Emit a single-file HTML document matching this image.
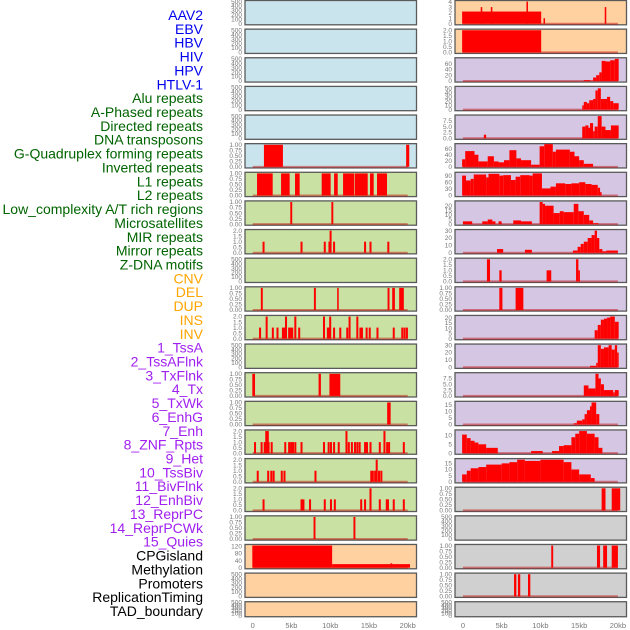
<!DOCTYPE html>
<html><head><meta charset="utf-8">
<style>
html,body{margin:0;padding:0;background:#fff;}
svg{display:block;font-family:"Liberation Sans",sans-serif;}
</style></head>
<body>
<svg id="chart" width="630" height="630" viewBox="0 0 630 630" xmlns="http://www.w3.org/2000/svg">
<g id="labels"></g>
<g id="panels"></g>
<g id="xaxes"></g>
</svg>
<script>
// ---- labels ----
const labelNames = ["AAV2","EBV","HBV","HIV","HPV","HTLV-1","Alu repeats","A-Phased repeats","Directed repeats","DNA transposons","G-Quadruplex forming repeats","Inverted repeats","L1 repeats","L2 repeats","Low_complexity A/T rich regions","Microsatellites","MIR repeats","Mirror repeats","Z-DNA motifs","CNV","DEL","DUP","INS","INV","1_TssA","2_TssAFlnk","3_TxFlnk","4_Tx","5_TxWk","6_EnhG","7_Enh","8_ZNF_Rpts","9_Het","10_TssBiv","11_BivFlnk","12_EnhBiv","13_ReprPC","14_ReprPCWk","15_Quies","CPGisland","Methylation","Promoters","ReplicationTiming","TAD_boundary"];
const labelGroups = [6,13,5,15,5];
const groupColors = ["#0000ee","#006400","#ffa500","#a020f0","#000000"];

// ---- x axis ----
const xTickVals = [0,5,10,15,20];
const xTickLabels = ["0","5kb","10kb","15kb","20kb"];

// ---- tick sets ----
const tEmptyV = [0,100,200,300,400,500]; const tEmptyL = ["0","100","200","300","400","500"];
const t1V = [0,0.25,0.5,0.75,1]; const t1L = ["0.00","0.25","0.50","0.75","1.00"];
const t2V = [0,0.5,1,1.5,2]; const t2L = ["0.0","0.5","1.0","1.5","2.0"];
const t4V = [0,1,2,3,4]; const t4L = ["0","1","2","3","4"];
const t60V = [0,20,40,60]; const t60L = ["0","20","40","60"];
const t50V = [0,10,20,30,40,50]; const t50L = ["0","10","20","30","40","50"];
const t75V = [0,2.5,5,7.5]; const t75L = ["0.0","2.5","5.0","7.5"];
const t90V = [0,30,60,90]; const t90L = ["0","30","60","90"];
const t20V = [0,5,10,15,20]; const t20L = ["0","5","10","15","20"];
const t30V = [0,10,20,30]; const t30L = ["0","10","20","30"];
const t15V = [0,5,10,15]; const t15L = ["0","5","10","15"];
const t10V = [0,5,10]; const t10L = ["0","5","10"];
const t120V = [0,40,80,120]; const t120L = ["0","40","80","120"];

// ---- left column data (interval: [start kb, end kb, value]; spikes: [center kb, value]) ----
const htlvIntervals = [[1.45,3.9,1],[19.8,20.2,1]];
const aluIntervals = [[0.56,2.58,1],[3.66,4.77,1],[5.46,6.06,1],[8.9,10.06,1],[10.5,10.97,1],[11.66,13.08,1],[13.16,14.84,1],[15.14,15.61,1],[16.04,17.33,1]];
const aphasedIntervals = [[4.85,5.1,1],[10.15,10.4,1]];
const directedSpikes = [[1.4,1],[6.3,1],[9.3,1],[9.9,1],[10.05,2],[10.5,1],[14.5,1],[15.2,1],[17.5,1]];
const gquadIntervals = [[1.05,1.3,1],[7.9,8.15,1],[10.9,11.1,1],[17.4,17.65,1],[18.0,18.35,1],[18.9,19.5,1]];
const invertedSpikes = [[0.95,1],[1.8,2],[2.6,1],[3.2,1],[3.9,1],[4.1,1],[4.3,2],[4.7,1],[4.9,1],[5.1,1],[5.5,2],[6.0,1],[9.2,2],[9.7,1],[9.85,1],[10.0,2],[10.5,1],[11.3,1],[12.2,1],[12.5,2],[13.5,2],[13.9,1],[14.1,1],[14.7,1],[15.1,1],[16.1,1],[18.2,1],[19.3,1],[19.6,1],[19.9,1]];
const l2Intervals = [[-0.05,0.3,1],[8.5,8.8,1],[9.9,11.3,1]];
const lowcompIntervals = [[17.35,17.8,1]];
const microsatSpikes = [[0.3,1],[1.15,1],[1.55,1],[1.75,2],[1.95,2],[2.05,1],[2.45,1],[4.2,1],[4.7,1],[4.95,1],[5.2,1],[5.5,1],[6.3,1],[9.2,1],[9.8,1],[10.1,1],[10.5,1],[11.1,1],[12.1,2],[12.4,1],[12.8,1],[13.2,1],[13.5,1],[13.8,1],[14.5,1],[14.75,1],[15.2,1],[16.4,1],[17.0,2],[17.35,1],[17.6,1],[19.5,1]];
const mirSpikes = [[0.65,1],[2.0,1],[2.4,1],[2.7,1],[3.75,1],[4.1,1],[8.1,1],[15.3,1],[15.5,1],[15.8,1],[16.0,2],[16.3,1],[16.6,1]];
const mirrorSpikes = [[1.4,1],[6.3,1],[6.55,1],[7.4,1],[9.3,1],[10.1,1],[10.6,1],[14.0,1],[14.5,1],[15.2,2],[16.4,1],[17.3,1],[17.45,1],[18.2,1],[19.5,1]];
const zdnaIntervals = [[7.85,8.1,1],[13.0,13.25,1]];
const cnvIntervals = [[-0.05,10.25,125],[10.25,20.3,20],[17.8,18.0,25]];

// ---- right column data ----
const insIntervals = [[-0.1,10.1,2.2],[2.3,2.5,3],[3.6,3.8,3],[8.2,8.4,4],[10.4,10.6,1],[18.3,18.5,3]];
const invIntervals = [[-0.1,10.1,2]];
const tssaBins = [[15.6,16.4,3],[16.4,16.8,1],[16.8,17.2,12],[17.2,17.6,20],[17.6,17.9,30],[17.9,18.4,70],[18.4,19.0,68],[19.0,19.6,72],[19.6,20.1,77]];
const tssaflnkBins = [[15.4,15.6,10],[15.6,16.0,18],[16.0,16.3,15],[16.3,16.8,22],[16.8,17.1,25],[17.1,17.4,45],[17.4,17.8,50],[17.8,18.6,25],[18.6,19.0,30],[19.0,19.4,20],[19.4,20.1,15]];
const txflnkBins = [[2.7,3.0,1.5],[15.4,15.8,5],[15.8,16.2,5.5],[16.2,16.4,4.5],[16.4,16.8,6.5],[16.8,17.0,3],[17.0,17.4,5],[17.4,17.9,9.5],[17.9,18.4,5],[18.4,19.1,3.5],[19.1,20.1,5.5]];
const txBins = [[-0.1,0.3,25],[0.3,1.5,52],[1.5,2.0,40],[2.0,3.2,18],[3.2,4.0,35],[4.0,4.6,18],[4.6,5.3,15],[5.3,6.0,22],[6.0,6.9,55],[6.9,7.5,28],[7.5,8.8,22],[8.8,9.9,7],[9.9,10.5,68],[10.5,11.6,75],[11.6,12.0,50],[12.0,13.8,57],[13.8,14.4,50],[14.4,15.0,35],[15.0,15.6,22],[15.6,16.8,10]];
const txwkBins = [[-0.1,0.4,90],[0.4,1.0,68],[1.0,1.4,75],[1.4,3.0,95],[3.0,3.3,82],[3.3,4.7,98],[4.7,5.2,90],[5.2,6.2,92],[6.2,6.8,70],[6.8,7.4,85],[7.4,8.6,92],[8.6,9.0,90],[9.0,10.2,100],[10.2,11.3,32],[11.3,12.0,40],[12.0,13.2,55],[13.2,14.0,52],[14.0,15.0,55],[15.0,15.8,60],[15.8,16.6,52],[16.6,17.4,48],[17.4,17.7,35],[17.7,17.9,15]];
const enhgBins = [[0,1.2,3],[2.5,3.2,3],[3.2,3.8,5],[3.8,4.2,3],[4.6,5.0,3],[6.5,7.5,4],[7.5,8.9,3],[9.9,10.3,24],[10.3,10.6,22],[10.6,11.7,20],[11.7,12.5,12],[12.5,13.0,14],[13.0,14.3,13],[14.3,14.9,22],[14.9,15.6,14],[15.6,16.3,10],[16.3,16.8,4],[16.8,17.5,1]];
const enhBins = [[4.4,5.2,5],[8.0,8.9,4],[14.2,14.8,3],[14.8,15.2,8],[15.2,15.6,12],[15.6,16.1,15],[16.1,16.6,20],[16.6,17.0,24],[17.0,17.3,30],[17.3,17.6,20],[17.6,18.0,5],[18.0,18.5,2],[18.5,20.0,3]];
const znfIntervals = [[3.1,3.5,2],[4.7,5.0,1],[10.8,11.4,1],[14.6,14.9,2],[14.9,15.1,1]];
const hetIntervals = [[4.7,5.1,1],[6.8,7.8,1]];
const tssbivBins = [[17.0,17.4,8],[17.4,17.8,13],[17.8,18.2,18],[18.2,18.6,19],[18.6,19.0,20],[19.0,19.6,21],[19.6,20.1,16]];
const bivflnkBins = [[16.4,17.2,2],[17.2,17.4,6],[17.4,17.8,30],[17.8,18.2,25],[18.2,18.8,27],[18.8,19.2,30],[19.2,19.6,24],[19.6,19.9,30],[19.9,20.1,20]];
const enhbivBins = [[15.6,16.2,4.5],[16.2,17.1,3.2],[17.1,17.5,9.5],[17.5,17.8,7.5],[17.8,18.2,5],[18.2,19.4,2.5],[19.4,19.6,1.5],[19.6,20.1,2.5]];
const reprpcBins = [[14.3,14.7,1],[14.7,15.4,3],[15.4,15.7,4],[15.7,16.0,8],[16.0,16.4,11],[16.4,16.6,14],[16.6,17.2,17],[17.2,17.6,8]];
const reprpcwkBins = [[-0.1,0.5,10.5],[0.5,1.0,8.5],[1.0,1.5,7],[1.5,2.0,6],[2.0,3.0,5],[3.0,4.5,3],[8.8,10.3,1.2],[11.5,12.4,1.2],[12.4,13.0,4],[13.0,14.0,4.5],[14.0,14.5,9],[14.5,15.0,11],[15.0,16.0,12.5],[16.0,17.0,11],[17.0,17.5,9],[17.5,18.0,3]];
const quiesBins = [[-0.1,0.5,6],[0.5,1.0,9],[1.0,2.0,11],[2.0,3.0,12],[3.0,5.0,14],[5.0,6.0,15],[6.0,7.0,16],[7.0,8.0,18],[8.0,10.0,17],[10.0,13.0,18],[13.0,14.0,16],[14.0,15.0,10],[15.0,16.5,6],[16.5,17.0,3]];
const cpgIntervals = [[17.9,18.4,1],[19.2,20.3,1]];
const promoterIntervals = [[11.4,11.65,1],[17.3,17.7,1],[18.1,18.6,1],[19.2,20.0,1]];
const rtIntervals = [[6.6,6.9,1],[7.1,7.4,1],[8.4,8.7,1]];

const BLUE="#c9e4ec", GREEN="#c9e2a3", ORANGE="#ffd1a1", LAV="#d5c7e3", GRAY="#d0d0d0";

// [col,row,bg,M,tickV,tickL,data,kind]
const panels = [
 [0,0,BLUE,500,tEmptyV,tEmptyL,null,"none"],
 [0,1,BLUE,500,tEmptyV,tEmptyL,null,"none"],
 [0,2,BLUE,500,tEmptyV,tEmptyL,null,"none"],
 [0,3,BLUE,500,tEmptyV,tEmptyL,null,"none"],
 [0,4,BLUE,500,tEmptyV,tEmptyL,null,"none"],
 [0,5,BLUE,1,t1V,t1L,htlvIntervals,"bars"],
 [0,6,GREEN,1,t1V,t1L,aluIntervals,"bars"],
 [0,7,GREEN,1,t1V,t1L,aphasedIntervals,"bars"],
 [0,8,GREEN,2,t2V,t2L,directedSpikes,"spikes"],
 [0,9,GREEN,500,tEmptyV,tEmptyL,null,"none"],
 [0,10,GREEN,1,t1V,t1L,gquadIntervals,"bars"],
 [0,11,GREEN,2,t2V,t2L,invertedSpikes,"spikes"],
 [0,12,GREEN,500,tEmptyV,tEmptyL,null,"none"],
 [0,13,GREEN,1,t1V,t1L,l2Intervals,"bars"],
 [0,14,GREEN,1,t1V,t1L,lowcompIntervals,"bars"],
 [0,15,GREEN,2,t2V,t2L,microsatSpikes,"spikes"],
 [0,16,GREEN,2,t2V,t2L,mirSpikes,"spikes"],
 [0,17,GREEN,2,t2V,t2L,mirrorSpikes,"spikes"],
 [0,18,GREEN,1,t1V,t1L,zdnaIntervals,"bars"],
 [0,19,ORANGE,125,t120V,t120L,cnvIntervals,"bars"],
 [0,20,ORANGE,500,tEmptyV,tEmptyL,null,"none"],
 [0,21,ORANGE,500,tEmptyV,tEmptyL,null,"none"],
 [1,0,ORANGE,4,t4V,t4L,insIntervals,"bars"],
 [1,1,ORANGE,2,t2V,t2L,invIntervals,"bars"],
 [1,2,LAV,77,t60V,t60L,tssaBins,"bars"],
 [1,3,LAV,52,t50V,t50L,tssaflnkBins,"bars"],
 [1,4,LAV,9.5,t75V,t75L,txflnkBins,"bars"],
 [1,5,LAV,73,t60V,t60L,txBins,"bars"],
 [1,6,LAV,100,t90V,t90L,txwkBins,"bars"],
 [1,7,LAV,24,t20V,t20L,enhgBins,"bars"],
 [1,8,LAV,30,t30V,t30L,enhBins,"bars"],
 [1,9,LAV,2,t2V,t2L,znfIntervals,"bars"],
 [1,10,LAV,1,t1V,t1L,hetIntervals,"bars"],
 [1,11,LAV,21,t20V,t20L,tssbivBins,"bars"],
 [1,12,LAV,30,t30V,t30L,bivflnkBins,"bars"],
 [1,13,LAV,9.5,t75V,t75L,enhbivBins,"bars"],
 [1,14,LAV,17,t15V,t15L,reprpcBins,"bars"],
 [1,15,LAV,12.5,t10V,t10L,reprpcwkBins,"bars"],
 [1,16,LAV,18,t15V,t15L,quiesBins,"bars"],
 [1,17,GRAY,1,t1V,t1L,cpgIntervals,"bars"],
 [1,18,GRAY,500,tEmptyV,tEmptyL,null,"none"],
 [1,19,GRAY,1,t1V,t1L,promoterIntervals,"bars"],
 [1,20,GRAY,1,t1V,t1L,rtIntervals,"bars"],
 [1,21,GRAY,500,tEmptyV,tEmptyL,null,"none"]
];

const NS="http://www.w3.org/2000/svg";
function mk(tag, attrs, parent){const e=document.createElementNS(NS,tag);for(const k in attrs)e.setAttribute(k,attrs[k]);parent.appendChild(e);return e;}
const colX0=[245,455];
const PW=171.5;
const zeroX=[252.7,462.9];
const PXKB=7.75;
function xScale(col,kb){return zeroX[col]+kb*PXKB;}
function panelTop(row){return 0.5+28.63*row;}
function panelH(row){return row===21?15:24.3;}

// labels
const labG=document.getElementById('labels');
let gi=0, cnt=0;
labelNames.forEach((n,i)=>{
  while(cnt>=labelGroups[gi]){cnt-=labelGroups[gi];gi++;}
  cnt++;
  const t=mk('text',{x:203,y:15+13.86*i+5,'text-anchor':'end','font-size':'14',fill:groupColors[gi]},labG);
  
  
  t.textContent=n;
});

// panels
const pg=document.getElementById('panels');
panels.forEach(p=>{
  const [col,row,bg,M,tv,tl,data,kind]=p;
  const name=labelNames[col*22+row].toLowerCase().replace(/[^a-z0-9]+/g,'-');
  const g=mk('g',{},pg);
  
  
  const top=panelTop(row), h=panelH(row), bot=top+h, x0=colX0[col];
  const yS=v=>bot-(v+0.05*M)/(1.1*M)*h;
  const r=mk('rect',{x:x0,y:top,width:PW,height:h,fill:bg,stroke:'#5a5a5a','stroke-width':'1.3'},g);
  
  
  tv.forEach((v,i)=>{
    const t=mk('text',{x:x0-3,y:yS(v)+2.2,'text-anchor':'end','font-size':'6.5',fill:'#777'},g);
    
    
    t.textContent=tl[i];
  });
  if(kind==='none')return;
  const bl=mk('line',{x1:xScale(col,0),x2:xScale(col,20),y1:yS(0),y2:yS(0),stroke:'rgba(190,0,0,0.45)','stroke-width':'2'},g);
  
  
  data.forEach(d=>{
    let s,e,v;
    if(kind==='spikes'){s=d[0]-0.13;e=d[0]+0.13;v=d[1];}else{s=d[0];e=d[1];v=d[2];}
    const xa=xScale(col,s), xb=xScale(col,e);
    const b=mk('rect',{x:xa,y:yS(v),width:Math.max(xb-xa,1.2),height:yS(0)-yS(v),fill:'#ff0000'},g);
    
    
  });
});

// x axes
const xg=document.getElementById('xaxes');
[0,1].forEach(col=>{
  xTickVals.forEach((v,i)=>{
    const t=mk('text',{x:xScale(col,v),y:628,'text-anchor':'middle','font-size':'7.5',fill:'#777'},xg);
    
    
    t.textContent=xTickLabels[i];
  });
});
</script>
</body></html>
